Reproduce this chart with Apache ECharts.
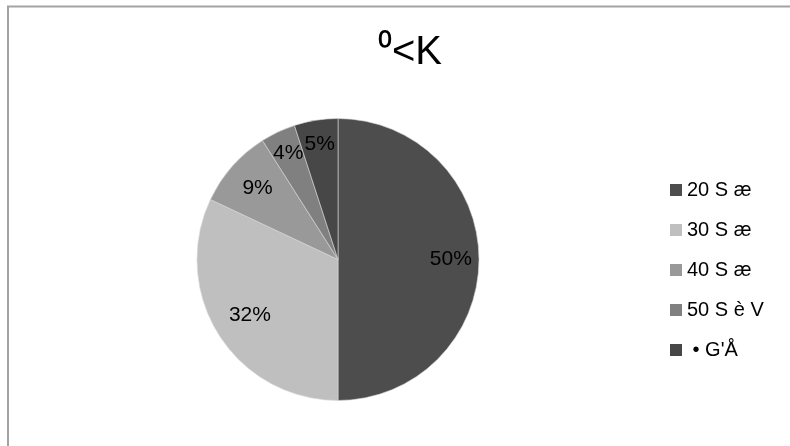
<!DOCTYPE html>
<html>
<head>
<meta charset="utf-8">
<script src="https://cdn.jsdelivr.net/npm/echarts@6/dist/echarts.min.js"></script>
<style>html,body{margin:0;padding:0;background:#fff}#c{width:790px;height:446px}</style>
</head>
<body>
<div id="c"></div>
<script>
var titleText = '\u2070<K';
var categories = ['20 S æ', '30 S æ', '40 S æ', '50 S è V', ' \u2022 G\'Å'];
var values = [50, 32, 9, 4, 5];
var colors = ['#4d4d4d', '#bfbfbf', '#999999', '#808080', '#474747'];
var labelRadius = [0.80, 0.74, 0.76, 0.83, 0.83];

var CX = 338, CY = 259.5, R = 141;
var chart = echarts.init(document.getElementById('c'), null, {renderer: 'canvas'});
chart.setOption({
  backgroundColor: '#ffffff',
  animation: false,
  textStyle: {fontFamily: 'Liberation Sans, Arial, sans-serif'},
  graphic: [{
    type: 'rect', silent: true, z: -1,
    shape: {x: 8, y: 6.5, width: 900, height: 600},
    style: {fill: 'none', stroke: '#a3a3a3', lineWidth: 2}
  }],
  title: {
    text: titleText, left: 405, top: 28, textAlign: 'center',
    textStyle: {fontSize: 40, fontWeight: 'normal', color: '#000', fontFamily: 'Liberation Sans, Arial, sans-serif'}
  },
  legend: {
    orient: 'vertical', left: 665, top: 175,
    itemWidth: 12, itemHeight: 12, itemGap: 20,
    icon: 'rect',
    itemStyle: {borderWidth: 0},
    textStyle: {fontSize: 20, color: '#000', fontFamily: 'Liberation Sans, Arial, sans-serif'},
    data: categories
  },
  series: [{
    type: 'pie',
    center: [CX, CY],
    radius: R,
    startAngle: 90,
    clockwise: true,
    color: colors,
    itemStyle: {borderColor: '#d9d9d9', borderWidth: 0.6},
    label: {
      show: true, position: 'inside',
      formatter: function (p) { return Math.round(p.percent) + '%'; },
      fontSize: 21, color: '#000', fontFamily: 'Liberation Sans, Arial, sans-serif'
    },
    labelLine: {show: false},
    labelLayout: function (p) {
      var rect = p.labelRect;
      var cx = rect.x + rect.width / 2, cy = rect.y + rect.height / 2;
      var vx = cx - CX, vy = cy - CY;
      var len = Math.sqrt(vx * vx + vy * vy) || 1;
      var t = labelRadius[p.dataIndex] * R;
      return {x: CX + vx / len * t, y: CY + vy / len * t, align: 'center', verticalAlign: 'middle'};
    },
    data: categories.map(function (c, i) { return {name: c, value: values[i]}; })
  }]
});
</script>
</body>
</html>
